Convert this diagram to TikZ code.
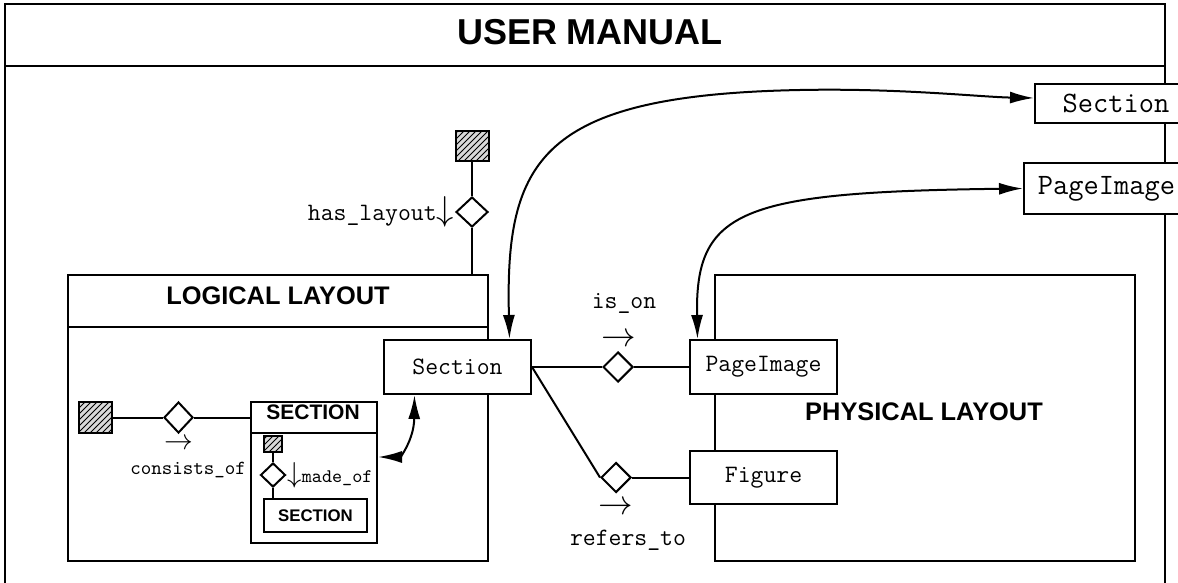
\documentclass[tikz,border=0pt]{standalone}
\usepackage{fontspec}
\setmainfont{Liberation Sans}
\usetikzlibrary{shapes.geometric,patterns,arrows.meta}

\begin{document}
\begin{tikzpicture}[>={Latex[length=12pt,width=6pt]},x=0.5pt,y=-0.5pt,line width=1pt,
  box/.style={draw,fill=white,rectangle,inner sep=0pt,font=\ttfamily\fontsize{12.5}{14}\selectfont},
  bigbox/.style={box,font=\ttfamily\fontsize{14.8}{16}\selectfont},
  rel/.style={draw,fill=white,diamond,inner sep=0pt,minimum width=15pt,minimum height=15pt},
  hatch/.style={draw,rectangle,inner sep=0pt,preaction={fill=gray!30},pattern=north east lines},
  lbl/.style={inner sep=0pt,font=\ttfamily\fontsize{12.5}{14}\selectfont},
  small/.style={inner sep=0pt,font=\ttfamily\fontsize{10}{12}\selectfont},
  arr/.style={inner sep=0pt,font=\fontsize{16}{18}\selectfont},
  ttl/.style={inner sep=0pt,font=\bfseries\fontsize{12.7}{14}\selectfont}]
\useasboundingbox (0,0) rectangle (1178,583);
\clip (0,0) rectangle (1178,583);
% outer frame
\draw (5,590) -- (5,4) -- (1165,4) -- (1165,590);
\draw (5,66) -- (1165,66);
\node[inner sep=0pt,font=\bfseries\fontsize{18}{20}\selectfont] (title) at (590,32) {USER MANUAL};
\node[bigbox,minimum width=81pt,minimum height=19.5pt] (rsec) at (1116,103.5) {Section};
\node[bigbox,minimum width=82.5pt,minimum height=25.5pt] (rpim) at (1106.5,188.5) {PageImage};
% logical layout
\node[draw,rectangle,minimum width=210pt,minimum height=143pt] (logical) at (278,418) {};
\draw (68,327) -- (488,327);
\node[ttl] (logtitle) at (278,296) {LOGICAL LAYOUT};
\node[hatch,minimum width=16.5pt,minimum height=15pt] (layout) at (472,146) {};
\node[rel,minimum width=16pt] (hl) at (472,212) {};
\node[lbl,anchor=east] (hltxt) at (hl.west) {has\_layout{\fontsize{17}{18}\selectfont$\downarrow$}};
\draw (layout) -- (hl);
\draw (hl.south) -- (hl.south |- logical.north);
\node[hatch,minimum width=16.5pt,minimum height=15.5pt] (doc) at (95.5,417.5) {};
\node[rel,minimum width=14.5pt,minimum height=15.5pt] (cons) at (178.5,417.5) {};
\node[arr,font=\fontsize{13.5}{15}\selectfont] (consarr) at (179,444) {$\rightarrow$};
\node[small] (constxt) at (188,470) {consists\_of};
\node[draw,fill=white,rectangle,minimum width=63pt,minimum height=70.5pt] (secbox) at (314,472.5) {};
\draw (251,433) -- (377,433);
\node[inner sep=0pt,font=\bfseries\fontsize{10.5}{12}\selectfont] (sectitle) at (313,412) {SECTION};
\node[hatch,minimum width=9pt,minimum height=8pt] (part) at (273,444) {};
\node[rel,minimum width=12.5pt,minimum height=12pt] (made) at (273,475) {};
\node[small,anchor=west,font=\ttfamily\fontsize{9.6}{11}\selectfont] (madetxt) at (made.east) {{\fontsize{13.5}{15}\selectfont$\downarrow$}made\_of};
\node[draw,rectangle,minimum width=51.5pt,minimum height=16.5pt,font=\bfseries\fontsize{8.4}{10}\selectfont] (subsec) at (315.5,515.5) {SECTION};
\draw (doc) -- (cons);
\draw (cons.east) -- (cons.east -| secbox.west);
\draw (part) -- (made);
\draw (made.south) -- (made.south |- subsec.north);
% physical layout
\node[draw,rectangle,minimum width=210pt,minimum height=143pt] (physical) at (925,418) {};
\node[ttl] (phystitle) at (924,412) {PHYSICAL LAYOUT};
\node[box,minimum width=73.5pt,minimum height=27pt] (sec) at (457.5,367) {Section};
\node[box,minimum width=73.5pt,minimum height=27pt] (pim) at (763.5,367) {PageImage};
\node[box,minimum width=73.5pt,minimum height=26.5pt] (fig) at (763.5,477.5) {Figure};
\node[rel] (ison) at (618,367) {};
\node[rel] (refto) at (616,477.5) {};
\node[lbl] (isontxt) at (624,303) {is\_on};
\node[arr] (isonarr) at (619,340) {$\rightarrow$};
\node[arr] (reftoarr) at (616,508) {$\rightarrow$};
\node[lbl] (reftotxt) at (628,540) {refers\_to};
\draw (sec.east) -- (ison.west);
\draw (ison.east) -- (pim.west);
\draw (sec.east) -- (refto.west);
\draw (refto.east) -- (fig.west);
% curved links
\draw[<->] ([xshift=-21.5pt]sec.south) .. controls (414,440) and (400,457) .. (secbox.east |- 0,457);
\draw[<->] ([xshift=26pt]sec.north) .. controls (505,160) and (540,95) .. (800,90) .. controls (900,88) and (980,97) .. ([yshift=2.75pt]rsec.west);
\draw[<->] ([xshift=-33pt]pim.north) .. controls (695,210) and (740,192) .. (rpim.west);
\end{tikzpicture}
\end{document}
